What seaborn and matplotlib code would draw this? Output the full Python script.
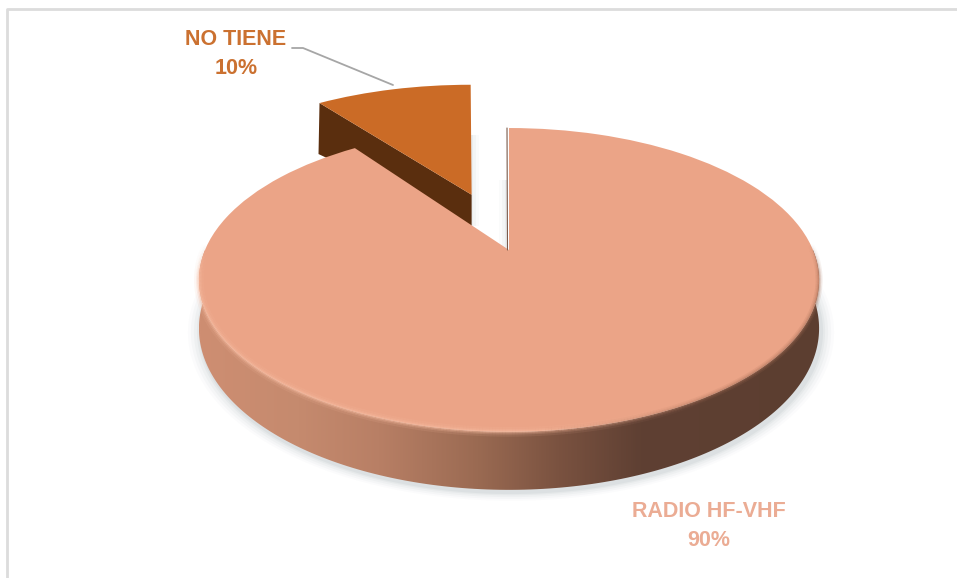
#!/usr/bin/env python3
"""3D looking pie: radio equipment share, exploded slice and perspective rim."""

import numpy as np
import matplotlib
matplotlib.use("Agg")
import matplotlib.pyplot as plt
from matplotlib.collections import LineCollection
from matplotlib.colors import LinearSegmentedColormap, to_rgb
from matplotlib.patches import Polygon
from matplotlib.transforms import Affine2D, Transform
import seaborn as sns

# ─────────────────────────────
# Data
# ─────────────────────────────
categories = ["RADIO HF-VHF", "NO TIENE"]
shares = [90, 10]
explode = [0, 0.43]

COLORS = ["#EBA487", "#CB6B26"]
SIDE_DARK = "#5A2E0E"
TEXT_COLORS = ["#EBAC94", "#CB7130"]

W, H = 957, 578
VX, VY = 509, 250      # pixel position of the pie centre
SX, SY, PERSP = 304, 146, 0.197
DEPTH = 46.6

sns.set_theme(style="white")
plt.rcParams["font.family"] = ["Liberation Sans", "DejaVu Sans"]


class Perspective(Transform):
    """Tilted disc: pie coordinates to pixel coordinates."""
    input_dims = 2
    output_dims = 2
    is_separable = False

    def transform_non_affine(self, xy):
        xy = np.asarray(xy, dtype=float)
        w = 1 + PERSP * xy[:, 1]
        return np.column_stack([VX + SX * xy[:, 0] / w, VY - SY * xy[:, 1] / w])


persp = Perspective()


def rim_points(theta, cx=0.0, cy=0.0, down=0.0):
    t = np.radians(theta)
    x, y = cx + np.cos(t), cy + np.sin(t)
    pts = persp.transform_non_affine(np.column_stack([x, y]))
    pts[:, 1] += down / (1 + PERSP * y)
    return pts


def fading_edge(theta, weight, color, lw, alpha):
    # stroke along the disc edge whose opacity follows weight
    pts = rim_points(theta)
    segs = np.stack([pts[:-1], pts[1:]], axis=1)
    rgba = np.zeros((len(segs), 4))
    rgba[:, :3] = to_rgb(color)
    rgba[:, 3] = alpha * weight[:-1]
    ax.add_collection(LineCollection(segs, colors=rgba, linewidths=lw, zorder=7,
                                     capstyle="butt"))


fig = plt.figure(figsize=(W / 100, H / 100), dpi=100)
ax = fig.add_axes([0, 0, 1, 1])

wedges, _ = ax.pie(shares, colors=COLORS, startangle=90, counterclock=False,
                   explode=explode, radius=1, frame=False)
ax.set_aspect("auto")
ax.set_xlim(0, W)
ax.set_ylim(H, 0)
ax.axis("off")

main, small = wedges

# the exploded slice stands a little more upright than the disc
mid = np.radians((small.theta1 + small.theta2) / 2)
cx, cy = explode[1] * np.cos(mid), explode[1] * np.sin(mid)
tip = persp.transform_non_affine(np.array([[cx, cy]]))[0]
upright = (Affine2D().translate(*-tip).skew(np.arctan(0.063), 0)
           .scale(1.05, 1.04).translate(*tip))

main.set_transform(persp + ax.transData)
small.set_transform(persp + upright + ax.transData)
for w, z in zip(wedges, [6, 3]):
    w.set_edgecolor("none")
    w.set_clip_on(False)
    w.set_zorder(z)

# frame of the pasted chart: only top and left survive the crop
ax.plot([W, 6.5, 6.5], [8.5, 8.5, H], color="#DCDCDC", lw=2, zorder=0)

# soft shadow under the front of the disc
theta = np.linspace(170, 370, 201)
outline = rim_points(theta, down=DEPTH)
centre = np.array([VX, 300.0])
for grow, alpha in zip([13, 10, 7, 4, 2], [0.03, 0.05, 0.06, 0.08, 0.10]):
    pts = centre + (outline - centre) * (1 + grow / 310) + [2, 3]
    ax.add_patch(Polygon(pts, fc="#8C9AA0", ec="none", alpha=alpha, zorder=1))

# faint shadows in the gap between the slices
for dx, alpha in [(8, 0.04), (5, 0.06), (2, 0.08)]:
    ax.fill_between([471, 471 + dx], 135, 226, color="#8C9AA0", alpha=alpha, lw=0, zorder=1)
    ax.fill_between([507 - dx, 507], 180, 250, color="#8C9AA0", alpha=alpha, lw=0, zorder=1)

# cut face of the exploded slice
outer = upright.transform(rim_points(np.array([small.theta2]), cx, cy))[0]
face = [outer, tip, tip + [0, 31], outer + [-1, 51]]
ax.add_patch(Polygon(face, fc=SIDE_DARK, ec="none", zorder=2))

# rim of the large slice, shaded left to right
rim_theta = np.linspace(176, 364, 200)
top = rim_points(rim_theta)
bottom = rim_points(rim_theta, down=DEPTH)
rim_poly = Polygon(np.vstack([top, bottom[::-1]]), fc="none", ec="none")
ax.add_patch(rim_poly)
cmap = LinearSegmentedColormap.from_list(
    "rim", [(0, "#CE8E72"), (0.16, "#C58A6E"), (0.29, "#B87F65"), (0.45, "#9A6A52"),
            (0.58, "#7A5240"), (0.71, "#5F4033"), (1, "#5C3E30")])
img = ax.imshow(np.linspace(0, 1, 512)[None, :], cmap=cmap, aspect="auto",
                extent=[199, 820, 500, 250], zorder=5, interpolation="bilinear")
img.set_clip_path(rim_poly)
ax.set_xlim(0, W)
ax.set_ylim(H, 0)

# bevel along the front edge of the top: light on the left, blurred dark on the right
edge_theta = np.linspace(178, 362, 369)
light_weight = np.clip((305 - edge_theta) / 35, 0, 1) * np.clip((edge_theta - 178) / 12, 0, 1)
dark_weight = np.clip((edge_theta - 275) / 35, 0, 1) * np.clip((362 - edge_theta) / 12, 0, 1)
for lw, alpha in [(7, 0.12), (4, 0.22), (2, 0.4)]:
    fading_edge(edge_theta, light_weight, "#F8BDA2", lw, alpha)
for lw, alpha in [(5, 0.14), (3, 0.2), (1.5, 0.3)]:
    fading_edge(edge_theta, dark_weight, "#A87058", lw, alpha)

# thin dark line on the straight cut of the large slice
ax.plot([VX - 2, VX - 1.5], [128, VY], color="#7A5A4A", lw=0.8, zorder=7)

# labels
ax.plot([292, 303, 393], [48, 48, 85], color="#A6A6A6", lw=1.3, zorder=8)
ax.text(236, 54, f"{categories[1]}\n{shares[1]}%", color=TEXT_COLORS[1], ha="center",
        va="center", fontsize=15.5, fontweight="bold", linespacing=1.55)
ax.text(709, 526, f"{categories[0]}\n{shares[0]}%", color=TEXT_COLORS[0], ha="center",
        va="center", fontsize=15.5, fontweight="bold", linespacing=1.5)

fig.savefig("out.png", dpi=100)
